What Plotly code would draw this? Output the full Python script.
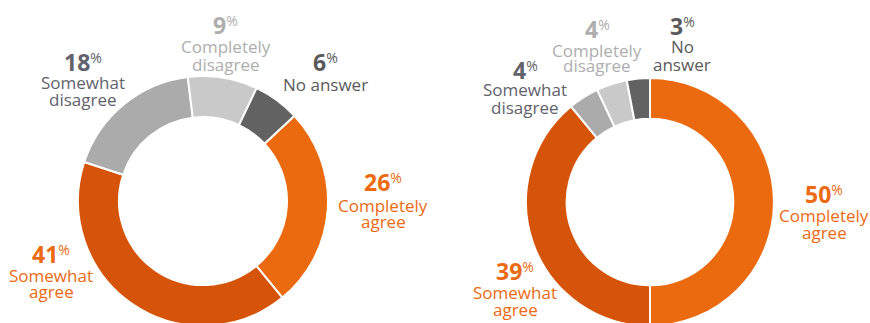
import plotly.graph_objects as go

# ---- data ----
categories = ["Completely agree", "Somewhat agree", "Somewhat disagree", "Completely disagree", "No answer"]
left_values = [26, 41, 18, 9, 6]
right_values = [50, 39, 4, 4, 3]
left_label_lines = [["Completely", "agree"], ["Somewhat", "agree"], ["Somewhat", "disagree"],
                    ["Completely", "disagree"], ["No answer"]]
right_label_lines = [["Completely", "agree"], ["Somewhat", "agree"], ["Somewhat", "disagree"],
                     ["Completely", "disagree"], ["No", "answer"]]

# ---- style ----
W, H = 870, 340
slice_colors = ["#EB6A0F", "#D6540A", "#ABABAB", "#C9C9C9", "#626262"]
label_colors = ["#EB6A12", "#EB6A12", "#62626C", "#AEAEAE", "#5A5A5A"]
FONT = "Open Sans"

# label anchor positions in pixels: (x, y_number, [y_line1, y_line2])
left_pos = [(383, 182, [205, 221]), (51, 254, [275, 291]), (83, 62, [82, 99]),
            (226, 25, [47, 64]), (325, 62, [84])]
right_pos = [(824, 194, [215, 232]), (515, 271, [292, 309]), (525, 70, [90, 107]),
             (597, 29, [50, 65]), (682, 26, [47, 64])]


def dom(cx, cy, r):
    return dict(x=[(cx - r) / W, (cx + r) / W], y=[1 - (cy + r) / H, 1 - (cy - r) / H])


fig = go.Figure()
for vals, (cx, cy, r), rot in [(left_values, (203, 201, 125), 47), (right_values, (650, 202, 124), 0)]:
    fig.add_trace(go.Pie(
        labels=categories, values=vals, hole=0.672, sort=False, direction="clockwise",
        rotation=rot, textinfo="none", hoverinfo="label+percent",
        marker=dict(colors=slice_colors, line=dict(color="white", width=2)),
        domain=dom(cx, cy, r), showlegend=False,
    ))

annotations = []
for vals, lines_list, pos in [(left_values, left_label_lines, left_pos),
                              (right_values, right_label_lines, right_pos)]:
    for i, v in enumerate(vals):
        x, yn, ylines = pos[i]
        col = label_colors[i]
        annotations.append(dict(
            x=x / W, y=1 - yn / H, xref="paper", yref="paper", xanchor="center", yanchor="middle",
            text=f"<b>{v}</b><span style='font-size:20px'><sup>%</sup></span>",
            showarrow=False, font=dict(family=FONT, size=23, color=col)))
        for txt, yl in zip(lines_list[i], ylines):
            annotations.append(dict(
                x=x / W, y=1 - yl / H, xref="paper", yref="paper", xanchor="center", yanchor="middle",
                text=txt, showarrow=False, font=dict(family=FONT, size=17, color=col)))

fig.update_layout(
    width=W, height=H, margin=dict(l=0, r=0, t=0, b=0),
    paper_bgcolor="white", plot_bgcolor="white",
    annotations=annotations,
)

fig.write_html("out.html", post_script="document.documentElement.style.overflow='hidden';document.body.style.overflow='hidden';")
